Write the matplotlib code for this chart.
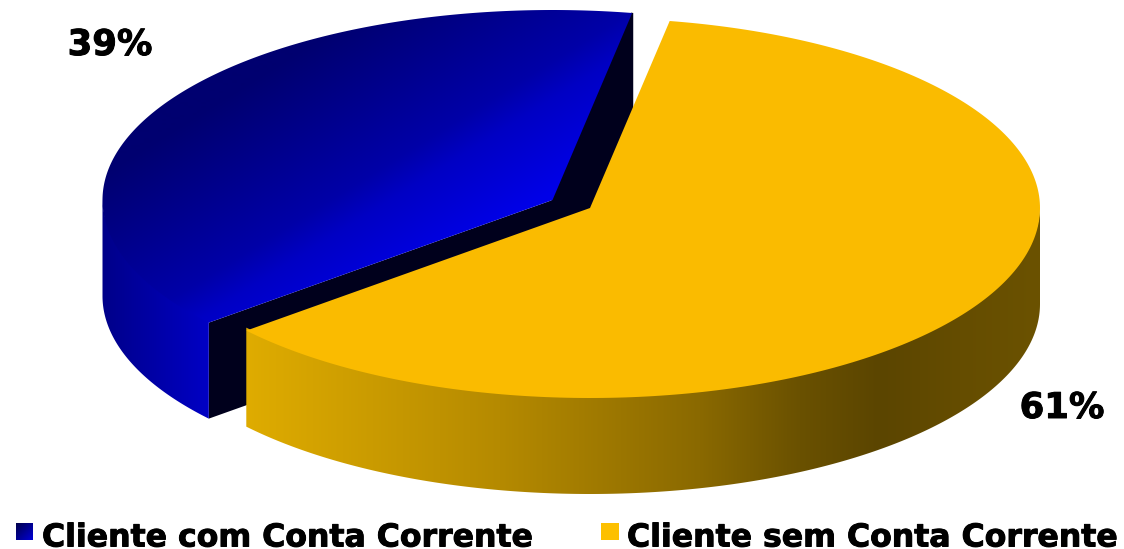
import numpy as np
import matplotlib
matplotlib.use("Agg")
import matplotlib.pyplot as plt
import matplotlib.patheffects as pe
from matplotlib.patches import Polygon, Rectangle
from matplotlib.colors import to_rgb

categories = ["Cliente com Conta Corrente", "Cliente sem Conta Corrente"]
values = [39, 61]
pct_labels = ["39%", "61%"]

W, H = 1124, 549
START = 79.8          # angle of the boundary at the back of the pie
A, B, DEPTH = 450.0, 190.0, 96.0
CENTRES = [(552.5, 200.0), (590.0, 208.0)]

fig = plt.figure(figsize=(W / 100, H / 100), dpi=100)
ax = fig.add_axes([0, 0, 1, 1])
ax.set_axis_off()


def rim(c, t0, t1, n=240):
    t = np.radians(np.linspace(t0, t1, n))
    return np.column_stack([c[0] + A * np.cos(t), c[1] - B * np.sin(t)])


def gradient(stops, clip, diag=0.0):
    xs = np.linspace(0, W, W + 1)
    ys = np.linspace(0, H, H + 1)
    X, Y = np.meshgrid(xs, ys)
    pos = np.array([s[0] for s in stops], float)
    cols = np.array([to_rgb(s[1]) for s in stops])
    U = X + diag * Y
    img = np.dstack([np.interp(U, pos, cols[:, i]) for i in range(3)])
    im = ax.imshow(img, extent=(0, W, H, 0), aspect="auto", interpolation="bilinear", zorder=clip.get_zorder())
    ax.add_patch(clip)
    clip.set_visible(False)
    im.set_clip_path(clip)


sweep = [v / sum(values) * 360 for v in values]
blue_a = (START, START + sweep[0])
yellow_a = (START, START - sweep[1])
cb, cy = CENTRES
BLACK = "#00001c"
down = np.array([0, DEPTH])
lift = np.array([0, 3])

# blue slice: cut faces
tip = rim(cb, blue_a[0], blue_a[0], 1)[0]
front = rim(cb, blue_a[1], blue_a[1], 1)[0]
apex = np.array(cb)
ax.add_patch(Polygon([tip, apex, apex + down, tip + down], fc=BLACK, ec=BLACK, lw=1.5, zorder=1))
ax.add_patch(Polygon([apex, front, front + down, apex + down], fc=BLACK, ec="none", zorder=1))

# blue outer wall
top = rim(cb, 180, blue_a[1])
wall = np.vstack([top - lift, (top + down)[::-1]])
gradient([(100, "#000088"), (207, "#0000c4")], Polygon(wall, zorder=1.5))

# blue top
face = np.vstack([apex, rim(cb, *blue_a)])
gradient([(380, "#000070"), (650, "#0000a8"), (710, "#0000c4"), (860, "#0000e8")],
         Polygon(face, zorder=2), diag=1.6)

# yellow wall and top
top = rim(cy, 0, yellow_a[1])
wall = np.vstack([top - lift, (top + down)[::-1]])
gradient([(246, "#DFAC00"), (500, "#B58A00"), (700, "#8A6900"), (800, "#6A5100"),
          (880, "#5B4500"), (960, "#654D00"), (1040, "#6B5200")],
         Polygon(wall, zorder=3))
face = np.vstack([np.array(cy), rim(cy, *yellow_a)])
ax.add_patch(Polygon(face, fc="#FABB00", ec="none", zorder=4))

heavy = [pe.withStroke(linewidth=0.7, foreground="black")]

# percent labels
ax.text(110, 45, pct_labels[0], fontsize=25.5, fontweight="bold", family=["DejaVu Sans"],
        ha="center", va="center", color="black", zorder=5, path_effects=heavy)
ax.text(1062, 408, pct_labels[1], fontsize=25.5, fontweight="bold", family=["DejaVu Sans"],
        ha="center", va="center", color="black", zorder=5, path_effects=heavy)

# legend
gradient([(539, "#00004a"), (573, "#0000d8")], Polygon([(16, 523), (33, 523), (33, 540), (16, 540)], zorder=5), diag=1.0)
ax.add_patch(Rectangle((601, 523), 18, 17, fc="#FDC000", ec="none", zorder=5))
ax.text(42, 546.5, categories[0], fontsize=22.7, fontweight="bold", family=["DejaVu Sans"],
        ha="left", va="baseline", color="black", zorder=5, path_effects=heavy)
ax.text(627, 546.5, categories[1], fontsize=22.7, fontweight="bold", family=["DejaVu Sans"],
        ha="left", va="baseline", color="black", zorder=5, path_effects=heavy)

ax.set_xlim(0, W)
ax.set_ylim(H, 0)
fig.savefig("out.png", dpi=100, facecolor="white")
